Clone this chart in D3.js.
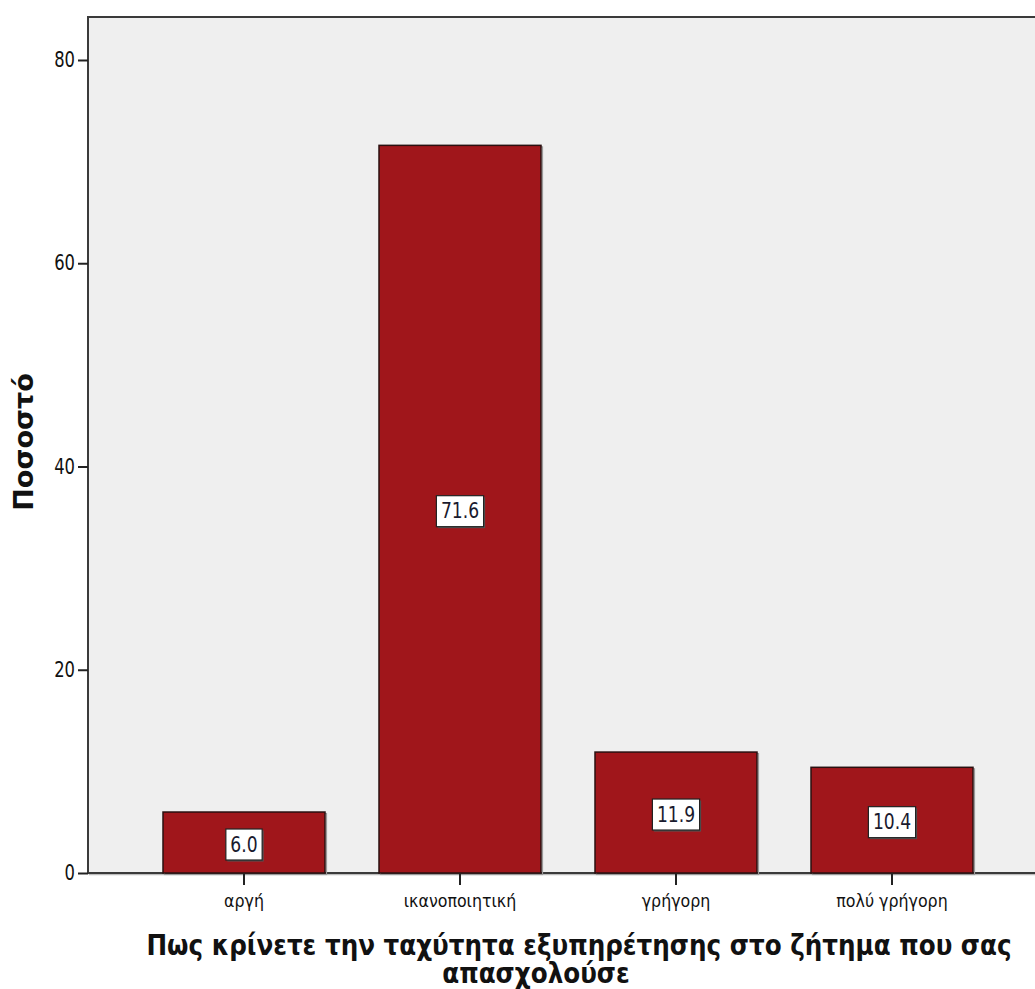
<!DOCTYPE html>
<html>
<head>
<meta charset="utf-8">
<script src="https://cdn.jsdelivr.net/npm/d3@7"></script>
<style>
  body { margin: 0; background: #ffffff; }
  svg { display: block; font-family: "DejaVu Sans", "Noto Sans", sans-serif; }
</style>
</head>
<body>
<svg id="chart" width="1035" height="989"></svg>
<script>
// Response categories and percentages
const categories = ["αργή", "ικανοποιητική", "γρήγορη", "πολύ γρήγορη"];
const percents = [6.0, 71.6, 11.9, 10.4];
const yTicks = [0, 20, 40, 60, 80];
const yTitle = "Ποσοστό";
const xTitleLines = ["Πως κρίνετε την ταχύτητα εξυπηρέτησης στο ζήτημα που σας", "απασχολούσε"];

const svg = d3.select("#chart");
const plot = { left: 88, top: 17, right: 1045, bottom: 873 };

const y = d3.scaleLinear().domain([0, 84.23]).range([plot.bottom, plot.top]);
const x = d3.scaleBand().domain(categories).range([136, 1000])
  .paddingInner(0.25).paddingOuter(0.125);

// Narrow a text horizontally around its anchor x
function narrow(sel, sx) {
  sel.each(function () {
    const x0 = +(this.getAttribute("x") || 0);
    d3.select(this).attr("transform", `translate(${x0},0) scale(${sx},1) translate(${-x0},0)`);
  });
}

// Plot background with frame
svg.append("rect")
  .attr("x", plot.left + 1.5).attr("y", plot.top + 1.5)
  .attr("width", plot.right - plot.left).attr("height", plot.bottom - plot.top)
  .attr("fill", "none").attr("stroke", "#bdbdbd").attr("stroke-width", 1.5);
svg.append("rect")
  .attr("x", plot.left).attr("y", plot.top)
  .attr("width", plot.right - plot.left).attr("height", plot.bottom - plot.top)
  .attr("fill", "#efefef").attr("stroke", "#3a3a3a").attr("stroke-width", 2);

// Bars
const bars = svg.append("g");
bars.selectAll("rect.shadow").data(categories).join("rect")
  .attr("class", "shadow")
  .attr("x", d => x(d) + 1.5).attr("y", (d, i) => y(percents[i]) + 1.5)
  .attr("width", x.bandwidth()).attr("height", (d, i) => y(0) - y(percents[i]))
  .attr("fill", "none").attr("stroke", "#9a9a9a").attr("stroke-width", 1.2);
bars.selectAll("rect.bar").data(categories).join("rect")
  .attr("class", "bar")
  .attr("x", d => x(d)).attr("y", (d, i) => y(percents[i]))
  .attr("width", x.bandwidth()).attr("height", (d, i) => y(0) - y(percents[i]))
  .attr("fill", "#a0161b").attr("stroke", "#2a1010").attr("stroke-width", 1.5);

// Value labels in white boxes at bar middle
const labels = svg.append("g");
categories.forEach((c, i) => {
  const cx = x(c) + x.bandwidth() / 2;
  const cy = (y(percents[i]) + y(0)) / 2 + 2;
  const g = labels.append("g");
  const t = g.append("text")
    .attr("x", cx).attr("y", cy)
    .attr("text-anchor", "middle").attr("dominant-baseline", "central")
    .attr("font-size", 22).attr("fill", "#1a1a2e")
    .text(percents[i].toFixed(1));
  const w = t.node().getComputedTextLength() * 0.78 + 9;
  const h = 31;
  narrow(t, 0.78);
  g.insert("rect", "text")
    .attr("x", cx - w / 2 + 1.5).attr("y", cy - h / 2 + 1.5)
    .attr("width", w).attr("height", h)
    .attr("fill", "#555");
  g.insert("rect", "text")
    .attr("x", cx - w / 2).attr("y", cy - h / 2)
    .attr("width", w).attr("height", h)
    .attr("fill", "#ffffff").attr("stroke", "#222").attr("stroke-width", 1.2);
});

// Y axis
const yAxis = svg.append("g")
  .attr("transform", `translate(${plot.left},0)`)
  .call(d3.axisLeft(y).tickValues(yTicks).tickSize(10).tickPadding(3).tickFormat(d3.format("d")));
yAxis.select(".domain").remove();
yAxis.selectAll(".tick line").attr("stroke", "#222").attr("stroke-width", 2);
yAxis.selectAll(".tick text").attr("font-size", 21).attr("fill", "#111")
  .attr("font-family", "DejaVu Sans, sans-serif")
  .call(narrow, 0.78);

// X axis
const xAxis = svg.append("g")
  .attr("transform", `translate(0,${plot.bottom})`)
  .call(d3.axisBottom(x).tickSize(12).tickPadding(9));
xAxis.select(".domain").remove();
xAxis.selectAll(".tick line").attr("stroke", "#222").attr("stroke-width", 2);
xAxis.selectAll(".tick text").attr("font-size", 18).attr("fill", "#111")
  .attr("font-family", "DejaVu Sans, sans-serif")
  .call(narrow, 0.88);

// Axis titles
svg.append("text")
  .attr("transform", "translate(33,442) rotate(-90)")
  .attr("text-anchor", "middle")
  .attr("font-size", 27).attr("font-weight", "bold").attr("fill", "#111")
  .text(yTitle);

svg.append("text")
  .attr("x", 579).attr("y", 955)
  .attr("text-anchor", "middle")
  .attr("font-size", 29).attr("font-weight", "bold").attr("fill", "#111")
  .text(xTitleLines[0])
  .call(narrow, 0.85);
svg.append("text")
  .attr("x", 536).attr("y", 983)
  .attr("text-anchor", "middle")
  .attr("font-size", 29).attr("font-weight", "bold").attr("fill", "#111")
  .text(xTitleLines[1])
  .call(narrow, 0.85);
</script>
</body>
</html>
